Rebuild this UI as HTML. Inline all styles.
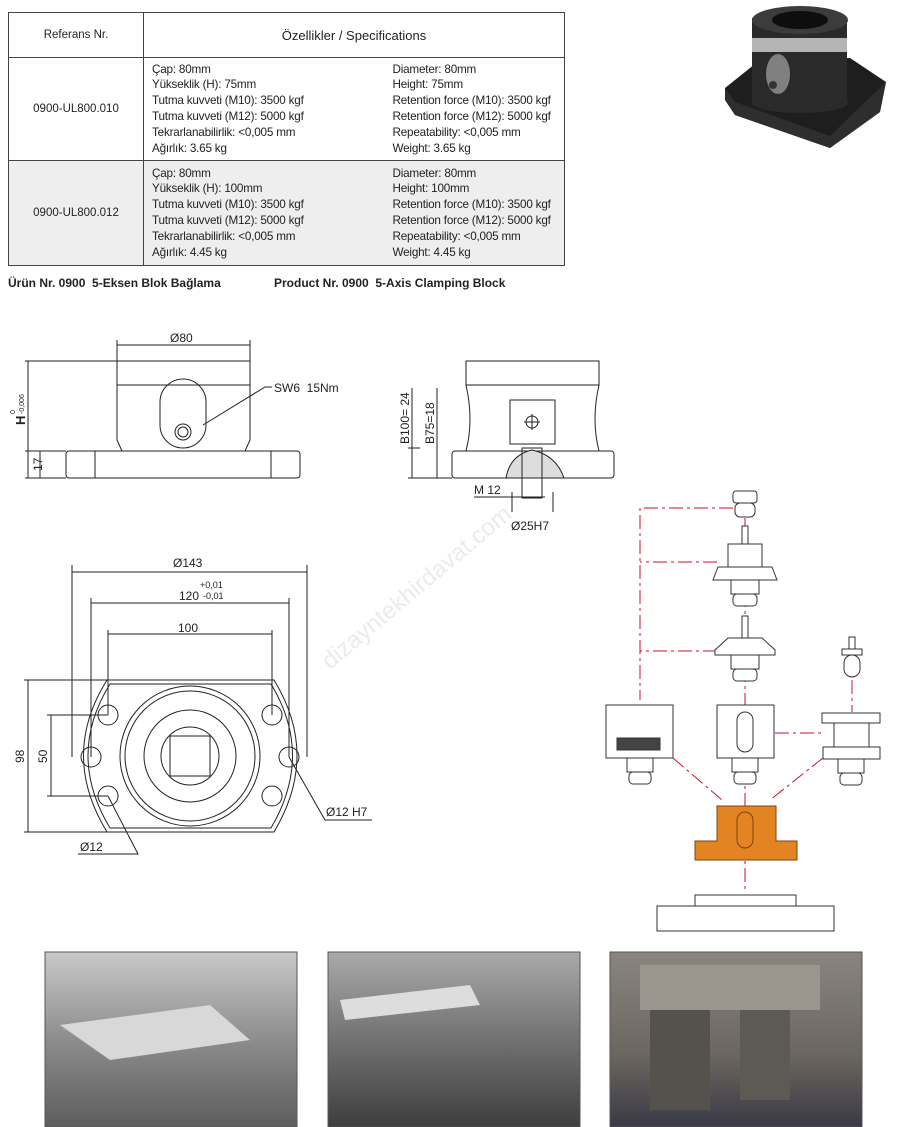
<!DOCTYPE html>
<html><head><meta charset="utf-8"><style>
body{margin:0;width:913px;height:1127px;background:#fff;position:relative;overflow:hidden;font-family:"Liberation Sans",sans-serif;color:#222}
table{position:absolute;left:8px;top:12px;border-collapse:collapse;width:556px;font-size:11.7px;letter-spacing:-0.2px;table-layout:fixed}
td{border:1px solid #444;padding:0;white-space:nowrap;overflow:hidden}
.ref{text-align:center;font-size:11.5px;letter-spacing:0}
.sp{padding-left:8px;line-height:15.8px;vertical-align:middle}
.gray td{background:#eeeeee}
.cap{position:absolute;top:276px;font-size:12px;font-weight:bold}
svg{position:absolute;left:0;top:0}
</style></head><body>
<table>
<colgroup><col style="width:135px"><col style="width:246px"><col style="width:175px"></colgroup>
<tr style="height:45px"><td class="ref">Referans Nr.</td><td colspan="2" style="text-align:center;font-size:13px;letter-spacing:0">Özellikler / Specifications</td></tr>
<tr style="height:103px"><td class="ref">0900-UL800.010</td><td class="sp" style="border-right:none">Çap: 80mm<br>Yükseklik (H): 75mm<br>Tutma kuvveti (M10): 3500 kgf<br>Tutma kuvveti (M12): 5000 kgf<br>Tekrarlanabilirlik: &lt;0,005 mm<br>Ağırlık: 3.65 kg</td><td class="sp" style="border-left:none;padding-left:3px">Diameter: 80mm<br>Height: 75mm<br>Retention force (M10): 3500 kgf<br>Retention force (M12): 5000 kgf<br>Repeatability: &lt;0,005 mm<br>Weight: 3.65 kg</td></tr>
<tr class="gray" style="height:105px"><td class="ref">0900-UL800.012</td><td class="sp" style="border-right:none">Çap: 80mm<br>Yükseklik (H): 100mm<br>Tutma kuvveti (M10): 3500 kgf<br>Tutma kuvveti (M12): 5000 kgf<br>Tekrarlanabilirlik: &lt;0,005 mm<br>Ağırlık: 4.45 kg</td><td class="sp" style="border-left:none;padding-left:3px">Diameter: 80mm<br>Height: 100mm<br>Retention force (M10): 3500 kgf<br>Retention force (M12): 5000 kgf<br>Repeatability: &lt;0,005 mm<br>Weight: 4.45 kg</td></tr>
</table>
<div class="cap" style="left:8px">Ürün Nr. 0900&nbsp; 5-Eksen Blok Bağlama</div>
<div class="cap" style="left:274px">Product Nr. 0900&nbsp; 5-Axis Clamping Block</div>

<svg width="913" height="1127" font-family="Liberation Sans, sans-serif">
<g>
<path d="M725 88 L760 60 L850 58 L886 82 L880 112 L830 148 L735 115 L725 100 Z" fill="#1e1e1e"/>
<path d="M725 88 L735 102 L830 136 L886 82 L880 112 L830 148 L735 115 L725 100 Z" fill="#2e2e2e"/>
<rect x="752" y="18" width="95" height="85" fill="#2a2a2a"/>
<ellipse cx="800" cy="103" rx="48" ry="10" fill="#2a2a2a"/>
<ellipse cx="800" cy="20" rx="48" ry="14" fill="#3c3c3c"/>
<ellipse cx="800" cy="20" rx="28" ry="9" fill="#0e0e0e"/>
<rect x="752" y="38" width="95" height="14" fill="#b5b5b5"/>
<ellipse cx="778" cy="74" rx="12" ry="20" fill="#808080"/>
<circle cx="773" cy="85" r="4" fill="#333"/>
</g>
<g stroke="#222" fill="none" stroke-width="1">
<line x1="117" y1="345" x2="250" y2="345"/><line x1="117" y1="340" x2="117" y2="361"/><line x1="250" y1="340" x2="250" y2="361"/>
<rect x="117" y="361" width="133" height="24"/>
<path d="M117 385 L117 440 L122 451 M250 385 L250 440 L245 451"/>
<rect x="66" y="451" width="234" height="27" rx="3"/>
<line x1="95" y1="451" x2="95" y2="478"/><line x1="271" y1="451" x2="271" y2="478"/>
<rect x="160" y="379" width="46" height="69" rx="23"/>
<circle cx="183" cy="432" r="8"/><circle cx="183" cy="432" r="5"/>
<path d="M203 425 L265 387 L272 387"/>
<line x1="25" y1="361" x2="117" y2="361"/><line x1="25" y1="478" x2="66" y2="478"/><line x1="25" y1="451" x2="66" y2="451"/>
<line x1="28" y1="361" x2="28" y2="478"/><line x1="40" y1="451" x2="40" y2="478"/>
<rect x="466" y="361" width="133" height="24"/>
<path d="M466 385 Q474 420 466 451 M599 385 Q591 420 599 451"/>
<rect x="452" y="451" width="162" height="27" rx="3"/>
<rect x="510" y="400" width="45" height="44"/>
<circle cx="532" cy="422" r="6"/><line x1="524" y1="422" x2="540" y2="422"/><line x1="532" y1="414" x2="532" y2="430"/>
<path d="M506 478 Q510 455 532 450 Q556 455 564 478 Z" fill="#ddd"/>
<rect x="522" y="448" width="20" height="50"/>
<line x1="408" y1="448" x2="420" y2="448"/><line x1="408" y1="478" x2="452" y2="478"/><line x1="412" y1="388" x2="412" y2="478"/><line x1="437" y1="388" x2="437" y2="478"/>
<line x1="474" y1="497" x2="545" y2="497"/><line x1="512" y1="492" x2="512" y2="512"/><line x1="553" y1="492" x2="553" y2="512"/>
<path d="M107 680 L274 680 Q320 755 274 832 L107 832 Q60 755 107 680 Z"/>
<path d="M110 684 L271 684 Q314 755 271 828 L110 828 Q66 755 110 684 Z"/>
<circle cx="190" cy="756" r="70"/><circle cx="190" cy="756" r="65"/>
<circle cx="190" cy="756" r="46"/><circle cx="190" cy="756" r="29"/>
<rect x="170" y="736" width="40" height="40"/>
<circle cx="108" cy="715" r="10"/><circle cx="91" cy="757" r="10"/><circle cx="108" cy="796" r="10"/>
<circle cx="272" cy="715" r="10"/><circle cx="289" cy="757" r="10"/><circle cx="272" cy="796" r="10"/>
<line x1="72" y1="572" x2="307" y2="572"/><line x1="72" y1="565" x2="72" y2="757"/><line x1="307" y1="565" x2="307" y2="757"/>
<line x1="91" y1="603" x2="289" y2="603"/><line x1="91" y1="598" x2="91" y2="757"/><line x1="289" y1="598" x2="289" y2="757"/>
<line x1="108" y1="634" x2="272" y2="634"/><line x1="108" y1="630" x2="108" y2="715"/><line x1="272" y1="630" x2="272" y2="715"/>
<line x1="24" y1="680" x2="107" y2="680"/><line x1="24" y1="832" x2="107" y2="832"/><line x1="28" y1="680" x2="28" y2="832"/>
<line x1="47" y1="715" x2="108" y2="715"/><line x1="47" y1="796" x2="108" y2="796"/><line x1="51" y1="715" x2="51" y2="796"/>
<path d="M108 796 L138 854 L78 854"/><path d="M289 757 L325 820 L372 820"/>
</g>
<g font-size="12" fill="#222">
<text x="170" y="342">Ø80</text><text x="274" y="392">SW6&#160; 15Nm</text>
<text x="25" y="425" font-weight="bold" font-size="13" transform="rotate(-90 25 425)">H</text>
<text x="15" y="414" font-size="7" transform="rotate(-90 15 414)">0</text>
<text x="24" y="414" font-size="7" transform="rotate(-90 24 414)">-0,006</text>
<text x="42" y="471" transform="rotate(-90 42 471)">17</text>
<text x="409" y="444" transform="rotate(-90 409 444)">B100= 24</text>
<text x="434" y="444" transform="rotate(-90 434 444)">B75=18</text>
<text x="474" y="494">M 12</text><text x="511" y="530">Ø25H7</text>
<text x="173" y="567">Ø143</text><text x="179" y="600">120</text>
<text x="200" y="588" font-size="9">+0,01</text><text x="203" y="599" font-size="9">-0,01</text>
<text x="178" y="632">100</text>
<text x="24" y="763" transform="rotate(-90 24 763)">98</text>
<text x="47" y="763" transform="rotate(-90 47 763)">50</text>
<text x="80" y="851">Ø12</text><text x="326" y="816">Ø12 H7</text>
</g>
<text x="330" y="670" font-size="24" fill="#ebebeb" transform="rotate(-40 330 670)">dizayntekhirdavat.com</text>
<g stroke="#c8102e" stroke-dasharray="14 4 3 4" fill="none" stroke-width="1">
<path d="M733 508 L640 508 L640 700 M717 562 L640 562 M717 651 L640 651"/>
<line x1="745" y1="493" x2="745" y2="893"/>
<line x1="852" y1="680" x2="852" y2="712"/>
<path d="M775 733 L823 733 M673 758 L722 800 M823 758 L770 800"/>
</g>
<g stroke="#333" fill="#fff" stroke-width="1">
<rect x="733" y="491" width="24" height="12" rx="3"/><rect x="735" y="503" width="20" height="14" rx="5"/>
<rect x="742" y="526" width="6" height="18"/><rect x="728" y="544" width="34" height="23"/><path d="M718 567 L772 567 L777 580 L713 580 Z"/>
<rect x="731" y="580" width="28" height="14"/><rect x="733" y="594" width="24" height="12" rx="4"/>
<rect x="742" y="616" width="6" height="22"/><path d="M728 638 L762 638 L775 650 L775 655 L715 655 L715 650 Z"/>
<rect x="731" y="655" width="28" height="14"/><rect x="733" y="669" width="24" height="12" rx="4"/>
<rect x="849" y="637" width="6" height="12"/><rect x="842" y="649" width="20" height="6"/><rect x="844" y="655" width="16" height="22" rx="8"/>
<rect x="606" y="705" width="67" height="53"/><rect x="627" y="758" width="26" height="14"/><rect x="629" y="772" width="22" height="12" rx="4"/>
<rect x="617" y="738" width="43" height="12" fill="#444"/>
<rect x="717" y="705" width="57" height="53"/><rect x="737" y="712" width="16" height="40" rx="8"/>
<rect x="732" y="758" width="26" height="14"/><rect x="734" y="772" width="22" height="12" rx="4"/>
<rect x="822" y="713" width="58" height="10"/><rect x="834" y="723" width="35" height="24"/><rect x="823" y="747" width="57" height="12"/>
<rect x="838" y="759" width="26" height="14"/><rect x="840" y="773" width="22" height="12" rx="4"/>
<path d="M717 806 L776 806 L776 841 L797 841 L797 860 L695 860 L695 841 L717 841 Z" fill="#e38422" stroke="#7a4412"/>
<rect x="737" y="812" width="16" height="36" rx="8" fill="#e38422" stroke="#7a4412"/>
<rect x="695" y="895" width="101" height="11"/><rect x="657" y="906" width="177" height="25"/>
</g>
<defs>
<linearGradient id="p1" x1="0" y1="0" x2="0" y2="1"><stop offset="0" stop-color="#c9c9c9"/><stop offset=".5" stop-color="#8d8d8d"/><stop offset="1" stop-color="#5d5d5d"/></linearGradient>
<linearGradient id="p2" x1="0" y1="0" x2="0" y2="1"><stop offset="0" stop-color="#aaa"/><stop offset=".45" stop-color="#777"/><stop offset="1" stop-color="#3e3e3e"/></linearGradient>
<linearGradient id="p3" x1="0" y1="0" x2="0" y2="1"><stop offset="0" stop-color="#8a8580"/><stop offset=".6" stop-color="#6a655f"/><stop offset="1" stop-color="#3a3a45"/></linearGradient>
</defs>
<rect x="45" y="952" width="252" height="175" fill="url(#p1)" stroke="#555"/>
<path d="M60 1025 L210 1005 L250 1040 L110 1060 Z" fill="#d8d8d8"/>
<rect x="328" y="952" width="252" height="175" fill="url(#p2)" stroke="#555"/>
<path d="M340 1000 L470 985 L480 1005 L345 1020 Z" fill="#ddd"/>
<rect x="610" y="952" width="252" height="175" fill="url(#p3)" stroke="#555"/>
<rect x="640" y="965" width="180" height="45" fill="#9b958e"/>
<rect x="650" y="1010" width="60" height="100" fill="#55514c"/><rect x="740" y="1010" width="50" height="90" fill="#5d5954"/>
</svg>
</body></html>
